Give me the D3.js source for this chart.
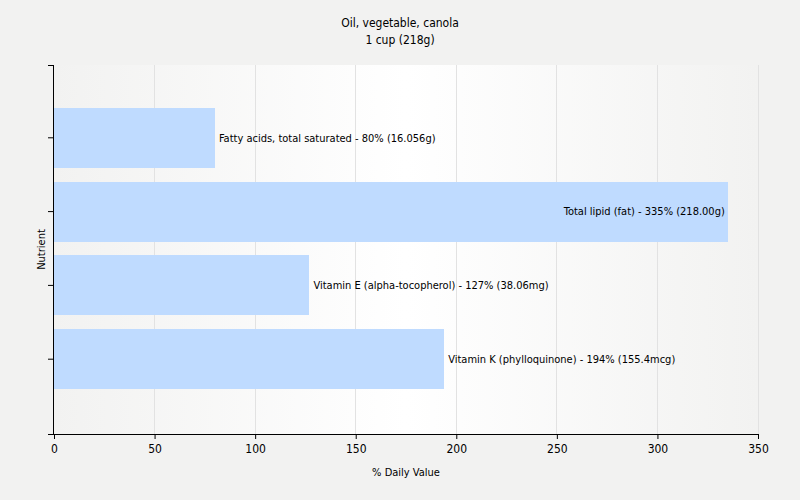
<!DOCTYPE html>
<html>
<head>
<meta charset="utf-8">
<script src="https://cdn.jsdelivr.net/npm/d3@7"></script>
<style>
html,body{margin:0;padding:0;background:#f2f2f1;}
text{font-family:Tahoma,"DejaVu Sans Condensed","Liberation Sans",Arial,sans-serif;fill:#000;}
</style>
</head>
<body>
<svg id="chart" width="800" height="500"></svg>
<script>
const titleLines = ["Oil, vegetable, canola", "1 cup (218g)"];
const categories = ["Fatty acids, total saturated", "Total lipid (fat)", "Vitamin E (alpha-tocopherol)", "Vitamin K (phylloquinone)"];
const values = [80, 335, 127, 194];
const amounts = ["16.056g", "218.00g", "38.06mg", "155.4mcg"];
const xTicks = [0, 50, 100, 150, 200, 250, 300, 350];
const xLabel = "% Daily Value";
const yLabel = "Nutrient";

const svg = d3.select("#chart");
const W = 800, H = 500;
const m = {left: 54, right: 42, top: 65, bottom: 66};
const x = d3.scaleLinear().domain([0, 350]).range([m.left, W - m.right]);
const y = d3.scaleBand().domain(categories).range([m.top - 1, H - m.bottom - 1]).paddingInner(0.187).paddingOuter(0.5935);

svg.append("rect").attr("width", W).attr("height", H).attr("fill", "#f2f2f1");

const defs = svg.append("defs");
const grad = defs.append("linearGradient").attr("id", "bg").attr("x1", "0").attr("x2", "1").attr("y1", "0").attr("y2", "0");
grad.append("stop").attr("offset", "0").attr("stop-color", "#f2f2f1");
grad.append("stop").attr("offset", "0.5").attr("stop-color", "#ffffff");
grad.append("stop").attr("offset", "1").attr("stop-color", "#f2f2f1");

svg.append("rect").attr("x", m.left).attr("y", m.top)
  .attr("width", W - m.right - m.left).attr("height", H - m.bottom - m.top)
  .attr("fill", "url(#bg)");

// gridlines
svg.append("g").selectAll("line").data(xTicks.slice(1)).join("line")
  .attr("x1", d => x(d)).attr("x2", d => x(d))
  .attr("y1", m.top).attr("y2", H - m.bottom)
  .attr("stroke", "#e2e2e2").attr("stroke-width", 1).attr("shape-rendering", "crispEdges");

// bars
svg.append("g").selectAll("rect").data(categories).join("rect")
  .attr("x", x(0)).attr("y", d => y(d))
  .attr("width", (d, i) => x(values[i]) - x(0))
  .attr("height", y.bandwidth())
  .attr("fill", "#bfdbff").attr("shape-rendering", "crispEdges");

// labels
svg.append("g").selectAll("text").data(categories).join("text")
  .attr("x", (d, i) => values[i] > 300 ? x(values[i]) - 3 : x(values[i]) + 4)
  .attr("y", d => y(d) + y.bandwidth() / 2)
  .attr("dy", "0.35em")
  .attr("text-anchor", (d, i) => values[i] > 300 ? "end" : "start")
  .attr("font-size", "11px")
  .text((d, i) => `${d} - ${values[i]}% (${amounts[i]})`);

// x axis
const xAxis = svg.append("g").attr("transform", `translate(0,${H - m.bottom})`)
  .call(d3.axisBottom(x).tickValues(xTicks).tickSize(5).tickSizeOuter(0));
xAxis.select(".domain").remove();
xAxis.append("line").attr("x1", m.left - 6).attr("x2", W - m.right).attr("y1", 0.5).attr("y2", 0.5)
  .attr("stroke", "#000");
xAxis.selectAll(".tick text").attr("font-size", "12px").attr("dy", "0.9em").attr("fill", "#000");
xAxis.selectAll(".tick line").attr("stroke", "#000");

// y axis
const yAxis = svg.append("g").attr("transform", `translate(${m.left},0)`)
  .call(d3.axisLeft(y).tickSize(6).tickSizeOuter(0).tickFormat(""));
yAxis.select(".domain").remove();
yAxis.append("line").attr("x1", -0.5).attr("x2", -0.5).attr("y1", m.top).attr("y2", H - m.bottom)
  .attr("stroke", "#000");
yAxis.append("line").attr("x1", -6).attr("x2", 0).attr("y1", m.top + 0.5).attr("y2", m.top + 0.5)
  .attr("stroke", "#000");
yAxis.selectAll(".tick line").attr("stroke", "#000");

// titles
svg.append("text").attr("x", 400).attr("y", 27).attr("text-anchor", "middle").attr("font-size", "12px").text(titleLines[0]);
svg.append("text").attr("x", 400).attr("y", 44).attr("text-anchor", "middle").attr("font-size", "12px").text(titleLines[1]);

svg.append("text").attr("x", (m.left + W - m.right) / 2).attr("y", 476).attr("text-anchor", "middle").attr("font-size", "11px").text(xLabel);
svg.append("text").attr("transform", `translate(45,${(m.top + H - m.bottom) / 2}) rotate(-90)`).attr("text-anchor", "middle").attr("font-size", "11px").text(yLabel);
</script>
</body>
</html>
